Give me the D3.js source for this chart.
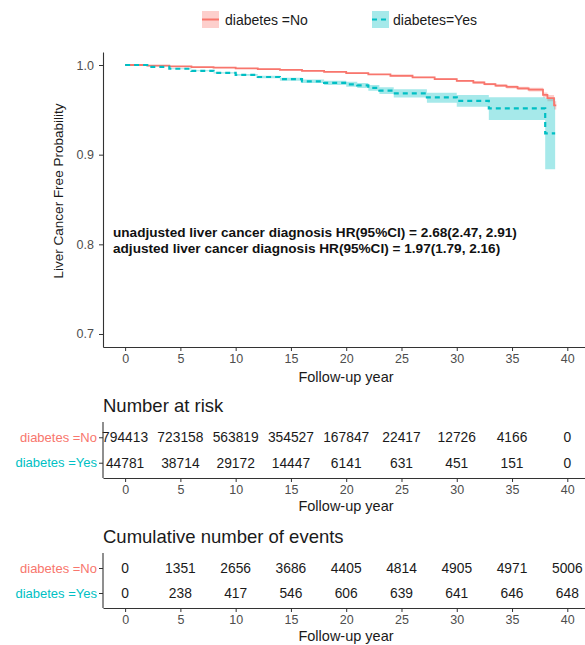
<!DOCTYPE html>
<html>
<head>
<meta charset="utf-8">
<script src="https://cdn.jsdelivr.net/npm/d3@7"></script>
<style>
  html, body { margin: 0; padding: 0; background: #fff; }
  svg text { font-family: "Liberation Sans", Arial, Helvetica, sans-serif; }
</style>
</head>
<body>
<svg id="chart" width="585" height="645"></svg>
<script>
// ---- Kaplan-Meier estimates (step points) ----
const timesNo  = [0, 2, 4, 6, 8, 10, 12, 14, 16, 18, 20, 22, 24, 26, 28, 30, 31.5, 32.5, 33.5, 34.5, 35.5, 36.5, 37.8, 38.2, 38.8, 39.0];
const survNo   = [1.0, 0.9993, 0.9985, 0.9977, 0.997, 0.9962, 0.9954, 0.9945, 0.9935, 0.9923, 0.991, 0.9895, 0.988, 0.9862, 0.9843, 0.9822, 0.9805, 0.9787, 0.977, 0.9755, 0.974, 0.9725, 0.9666, 0.963, 0.955, 0.955];
const lowerNo  = [1.0, 0.9991, 0.9983, 0.9975, 0.9967, 0.9959, 0.9951, 0.9941, 0.9931, 0.9919, 0.9905, 0.9889, 0.9873, 0.9854, 0.9834, 0.9812, 0.9794, 0.9775, 0.9756, 0.9739, 0.9722, 0.9704, 0.9638, 0.9595, 0.9505, 0.9505];
const upperNo  = [1.0, 0.9995, 0.9987, 0.9979, 0.9973, 0.9965, 0.9957, 0.9949, 0.9939, 0.9927, 0.9915, 0.9901, 0.9887, 0.987, 0.9852, 0.9832, 0.9816, 0.9799, 0.9784, 0.9771, 0.9758, 0.9746, 0.9694, 0.9665, 0.9595, 0.9595];

const timesYes = [0, 2, 4, 6, 8, 10, 12, 14, 16, 18, 20, 21, 22, 23, 24.3, 27.3, 30.0, 32.9, 38.0, 38.9];
const survYes  = [1.0, 0.998, 0.9958, 0.9935, 0.9912, 0.989, 0.9866, 0.9842, 0.9818, 0.98, 0.9785, 0.9772, 0.9745, 0.9715, 0.9684, 0.964, 0.96, 0.9517, 0.9238, 0.9238];
const lowerYes = [1.0, 0.9977, 0.9953, 0.9929, 0.9905, 0.988, 0.9853, 0.9825, 0.9798, 0.9777, 0.9758, 0.9744, 0.9712, 0.9677, 0.9638, 0.958, 0.9535, 0.9387, 0.8837, 0.8837];
const upperYes = [1.0, 0.9983, 0.9963, 0.9941, 0.9919, 0.99, 0.9879, 0.9859, 0.9838, 0.9823, 0.9812, 0.98, 0.9778, 0.9753, 0.973, 0.969, 0.9666, 0.964, 0.963, 0.963];

// ---- risk table ----
const tableTimes   = [0, 5, 10, 15, 20, 25, 30, 35, 40];
const groups       = ["No", "Yes"];
const groupLabels  = ["diabetes =No", "diabetes =Yes"];
const atRiskNo     = [794413, 723158, 563819, 354527, 167847, 22417, 12726, 4166, 0];
const atRiskYes    = [44781, 38714, 29172, 14447, 6141, 631, 451, 151, 0];
const eventsNo     = [0, 1351, 2656, 3686, 4405, 4814, 4905, 4971, 5006];
const eventsYes    = [0, 238, 417, 546, 606, 639, 641, 646, 648];

const yTicks = [0.7, 0.8, 0.9, 1.0];
const legendLabels = ["diabetes =No", "diabetes=Yes"];
const hrLines = [
  "unadjusted liver cancer diagnosis HR(95%CI) = 2.68(2.47, 2.91)",
  "adjusted liver cancer diagnosis HR(95%CI) = 1.97(1.79, 2.16)"
];

const colNo = "#F8766D", colYes = "#00BFC4";
const axisCol = "#333333", tickTextCol = "#4d4d4d";

const svg = d3.select("#chart");

// shared horizontal scale for curve panel and tables
const x = d3.scaleLinear().domain([-2, 41.6]).range([103, 585]);
const y = d3.scaleLinear().domain([0.6855, 1.0145]).range([347, 52]);

function styleAxis(g) {
  g.select(".domain").attr("stroke", axisCol).attr("stroke-width", 1.1);
  g.selectAll(".tick line").attr("stroke", axisCol).attr("stroke-width", 1);
  g.selectAll(".tick text").attr("fill", tickTextCol).style("font-size", "12.5px")
    .style("font-family", '"Liberation Sans", Arial, sans-serif');
}

// ---- legend ----
const legend = svg.append("g");
const legX = [202, 372], legTextX = [225, 393];
[colNo, colYes].forEach((c, i) => {
  legend.append("rect").attr("x", legX[i]).attr("y", 11).attr("width", 17).attr("height", 17)
    .attr("fill", c).attr("fill-opacity", 0.35);
  legend.append("line").attr("x1", legX[i]).attr("x2", legX[i] + 17).attr("y1", 19.5).attr("y2", 19.5)
    .attr("stroke", c).attr("stroke-width", 2)
    .attr("stroke-dasharray", i === 1 ? "5,4" : null);
  legend.append("text").attr("x", legTextX[i]).attr("y", 24.5).text(legendLabels[i])
    .style("font-size", "14px").attr("fill", "#1a1a1a");
});

// ---- survival panel ----
const curves = [
  { t: timesNo, s: survNo, lo: lowerNo, hi: upperNo, col: colNo, dash: null },
  { t: timesYes, s: survYes, lo: lowerYes, hi: upperYes, col: colYes, dash: "5,4" }
];
const area = d3.area().curve(d3.curveStepAfter)
  .x(d => x(d.t)).y0(d => y(d.lo)).y1(d => y(d.hi));
const line = d3.line().curve(d3.curveStepAfter)
  .x(d => x(d.t)).y(d => y(d.s));

curves.forEach(c => {
  const pts = c.t.map((t, i) => ({ t, s: c.s[i], lo: c.lo[i], hi: c.hi[i] }));
  svg.append("path").datum(pts).attr("d", area)
    .attr("fill", c.col).attr("fill-opacity", 0.35).attr("stroke", "none");
  c.pts = pts;
});
curves.forEach(c => {
  svg.append("path").datum(c.pts).attr("d", line)
    .attr("fill", "none").attr("stroke", c.col).attr("stroke-width", c.dash ? 2.2 : 1.8)
    .attr("stroke-dasharray", c.dash);
});

const xAxisMain = svg.append("g").attr("transform", "translate(0,347)")
  .call(d3.axisBottom(x).tickValues(tableTimes).tickSize(4).tickSizeOuter(0).tickPadding(3));
styleAxis(xAxisMain);
const yAxisMain = svg.append("g").attr("transform", "translate(103,0)")
  .call(d3.axisLeft(y).tickValues(yTicks).tickFormat(d3.format(".1f")).tickSize(4).tickSizeOuter(0).tickPadding(5));
styleAxis(yAxisMain);

svg.append("text").attr("transform", "translate(63,191) rotate(-90)")
  .attr("text-anchor", "middle").style("font-size", "13.5px").attr("fill", "#1a1a1a")
  .text("Liver Cancer Free Probability");
svg.append("text").attr("x", 346).attr("y", 382).attr("text-anchor", "middle")
  .style("font-size", "14.5px").attr("fill", "#1a1a1a").text("Follow-up year");

hrLines.forEach((s, i) => {
  svg.append("text").attr("x", 113).attr("y", 236.5 + i * 16)
    .style("font-size", "13.6px").style("font-weight", "bold").attr("fill", "#111")
    .text(s);
});

// ---- tables ----
function drawTable(title, top, bottom, rowsNo, rowsYes) {
  const g = svg.append("g");
  g.append("text").attr("x", 103).attr("y", top - 10).style("font-size", "18.5px")
    .attr("fill", "#1a1a1a").text(title);
  const pad = (bottom - top) * 0.6 / 2.2;
  const yr = d3.scalePoint().domain(groups).range([top + pad, bottom - pad]);
  const vals = [rowsNo, rowsYes];
  groups.forEach((gName, gi) => {
    g.selectAll(null).data(tableTimes).enter().append("text")
      .attr("x", d => x(d)).attr("y", yr(gName)).attr("dy", "0.36em")
      .attr("text-anchor", "middle").style("font-size", "13.8px").attr("fill", "#1a1a1a")
      .text((d, i) => vals[gi][i]);
  });
  const ya = g.append("g").attr("transform", "translate(103,0)")
    .call(d3.axisLeft(yr).tickSize(4).tickPadding(2).tickFormat((d, i) => groupLabels[i]));
  ya.select(".domain").attr("d", `M0,${top}V${bottom}`).attr("stroke", axisCol).attr("stroke-width", 1.1);
  ya.selectAll(".tick line").attr("stroke", axisCol);
  ya.selectAll(".tick text").style("font-size", "13px")
    .attr("fill", (d, i) => i === 0 ? colNo : colYes);
  const xa = g.append("g").attr("transform", `translate(0,${bottom})`)
    .call(d3.axisBottom(x).tickValues(tableTimes).tickSize(4).tickSizeOuter(0).tickPadding(3));
  styleAxis(xa);
  g.append("text").attr("x", 346).attr("y", bottom + 33).attr("text-anchor", "middle")
    .style("font-size", "14.5px").attr("fill", "#1a1a1a").text("Follow-up year");
}
drawTable("Number at risk", 422, 478, atRiskNo, atRiskYes);
drawTable("Cumulative number of events", 553, 608, eventsNo, eventsYes);
</script>
</body>
</html>
